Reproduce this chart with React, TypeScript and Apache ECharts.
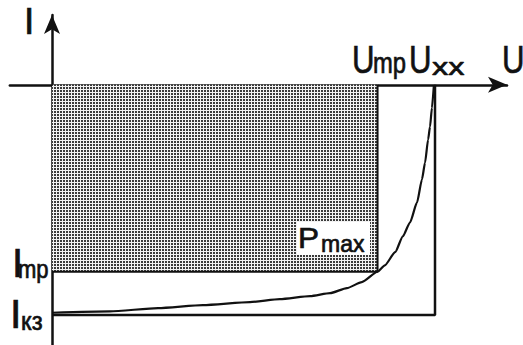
import React, { useEffect, useRef } from "react";
import * as echarts from "echarts";

// characteristic points (normalised: Uxx = 1, Iкз = 1)
const U_MP = 0.85;
const U_XX = 1.0;
const I_MP = 0.812;
const I_KZ = 1.0;

// I–U curve (current drawn below the U axis)
const curveU = [0, 0.151, 0.277, 0.394, 0.517, 0.595, 0.674, 0.726, 0.77, 0.809, 0.85, 0.869, 0.896, 0.916, 0.935, 0.953, 0.966, 0.974, 0.982, 0.987, 0.992, 0.997];
const curveI = [-0.99, -0.984, -0.97, -0.957, -0.944, -0.931, -0.918, -0.905, -0.883, -0.857, -0.812, -0.784, -0.727, -0.658, -0.597, -0.511, -0.411, -0.338, -0.238, -0.182, -0.1, -0.004];

// texts
const axisNameI = "I";
const axisNameU = "U";
const labelUmp = ["U", "mp"];
const labelUxx = ["U", "xx"];
const labelImp = ["I", "mp"];
const labelIkz = ["I", "кз"];
const labelPmax = ["P", "max"];

const FONT = '"Liberation Sans", Arial, sans-serif';
const INK = "#111";

function txt(text: string, x: number, baseline: number, size: number, sx = 1) {
  return {
    type: "text",
    x,
    y: baseline - 0.3465 * size,
    scaleX: sx,
    z: 110,
    style: {
      text,
      fontSize: size,
      fontFamily: FONT,
      fill: INK,
      stroke: INK,
      lineWidth: 0.7,
      align: "left",
      verticalAlign: "middle",
    },
  };
}

export default function App() {
  const ref = useRef<HTMLDivElement>(null);
  useEffect(() => {
    if (!ref.current) return;
    // dotted fill pattern
    const cv = document.createElement("canvas");
    cv.width = 3;
    cv.height = 3;
    const ctx = cv.getContext("2d")!;
    ctx.fillStyle = "#f2f2f2";
    ctx.fillRect(0, 0, 3, 3);
    ctx.fillStyle = "#3a3a3a";
    ctx.fillRect(0, 0, 2, 2);

    const ORIGIN_X = 52, PX_U = 383;
    const ORIGIN_Y = 85, PX_I = 231;
    const X_MIN = -0.11, X_MAX = 1.188;
    const Y_MIN = -1.13, Y_MAX = 0.303;

    const chart = echarts.init(ref.current, undefined, { renderer: "svg" });
    const curve = curveU.map((u, i) => [u, curveI[i]]);
    chart.setOption({
      animation: false,
      grid: {
        left: ORIGIN_X + X_MIN * PX_U,
        width: (X_MAX - X_MIN) * PX_U,
        top: ORIGIN_Y - Y_MAX * PX_I,
        height: (Y_MAX - Y_MIN) * PX_I,
      },
      xAxis: {
        type: "value",
        min: X_MIN,
        max: X_MAX,
        splitLine: { show: false },
        axisTick: { show: false },
        axisLabel: { show: false },
        axisLine: {
          onZero: true,
          symbol: ["none", "arrow"],
          symbolSize: [12, 19],
          lineStyle: { color: INK, width: 2.5 },
        },
      },
      yAxis: {
        type: "value",
        min: Y_MIN,
        max: Y_MAX,
        splitLine: { show: false },
        axisTick: { show: false },
        axisLabel: { show: false },
        axisLine: {
          onZero: true,
          symbol: ["none", "arrow"],
          symbolSize: [12, 19],
          lineStyle: { color: INK, width: 2.5 },
        },
      },
      series: [
        {
          type: "line",
          data: [[0, -I_MP], [U_MP, -I_MP]],
          showSymbol: false,
          lineStyle: { width: 0 },
          areaStyle: {
            color: { image: cv, repeat: "repeat", imageWidth: 3, imageHeight: 3 },
            opacity: 1,
          },
          z: 1,
        },
        {
          type: "line",
          data: [[0, -I_MP], [U_MP, -I_MP], [U_MP, 0]],
          showSymbol: false,
          lineStyle: { color: INK, width: 2 },
          z: 3,
        },
        {
          type: "line",
          data: [[0, -I_KZ], [U_XX, -I_KZ], [U_XX, 0]],
          showSymbol: false,
          lineStyle: { color: INK, width: 2.5 },
          z: 3,
        },
        {
          type: "line",
          data: curve,
          showSymbol: false,
          smooth: 0.2,
          smoothMonotone: "x",
          lineStyle: { color: INK, width: 2.2 },
          z: 4,
        },
      ],
      graphic: [
        { type: "rect", z: 100, shape: { x: 297, y: 222, width: 73, height: 33 }, style: { fill: "#fff" } },
        txt(labelPmax[0], 298, 248, 30, 1.05),
        txt(labelPmax[1], 321, 252, 23, 1.0),
        txt(axisNameI, 24, 34, 37, 1),
        txt(labelUmp[0], 352, 73, 39, 0.8),
        txt(labelUmp[1], 373, 73, 29, 0.82),
        txt(labelUxx[0], 409, 73, 39, 0.8),
        txt(labelUxx[1], 432, 75, 24, 1.35),
        txt(axisNameU, 502, 73, 39, 0.8),
        txt(labelImp[0], 12, 277, 40, 1),
        txt(labelImp[1], 18, 278, 25, 0.88),
        txt(labelIkz[0], 10, 328, 41, 1),
        txt(labelIkz[1], 21, 330, 25, 0.95),
      ],
    });
    return () => chart.dispose();
  }, []);
  return (
    <div
      ref={ref}
      style={{ position: "absolute", left: 0, top: 0, width: 523, height: 345, background: "#fff" }}
    />
  );
}
